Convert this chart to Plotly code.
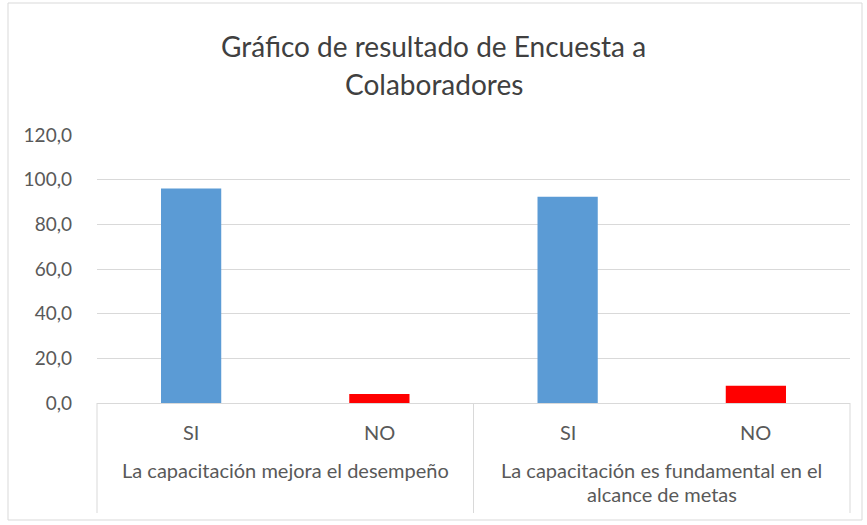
import plotly.graph_objects as go

group_labels = ["La capacitación mejora el desempeño",
                "La capacitación es fundamental en el<br>alcance de metas"]
groups = [group_labels[0], group_labels[0], group_labels[1], group_labels[1]]
answers = ["SI", "NO", "SI", "NO"]
values = [96.0, 4.0, 92.3, 7.7]
colors = ["#5B9BD5", "#FF0000", "#5B9BD5", "#FF0000"]
y_ticks = [0, 20, 40, 60, 80, 100, 120]

FONT = "Lato"
PL, PR = 97, 850
PT, PB = 135, 403
W, H = 867, 525
GRID = "#D9D9D9"
TXT = "#595959"

fig = go.Figure(go.Bar(
    x=[groups, answers], y=values,
    marker=dict(color=colors, line=dict(width=0)),
    showlegend=False,
))

def px(xp):
    return (xp - PL) / (PR - PL)

def py(yp):
    return (PB - yp) / (PB - PT)

n = len(answers)
annotations = []
for i, a in enumerate(answers):
    annotations.append(dict(text=a, xref="paper", yref="paper",
                            x=(i + 0.5) / n, y=py(432), showarrow=False,
                            xanchor="center", yanchor="middle",
                            font=dict(family=FONT, size=20, color=TXT)))
ng = len(group_labels)
for g, lab in enumerate(group_labels):
    lines = lab.split("<br>")
    for k, ln in enumerate(lines):
        annotations.append(dict(text=ln, xref="paper", yref="paper",
                                x=(g + 0.5) / ng, y=py(470 + 24 * k), showarrow=False,
                                xanchor="center", yanchor="middle",
                                font=dict(family=FONT, size=20, color=TXT)))

title_lines = ["Gráfico de resultado de Encuesta a", "Colaboradores"]
for k, t in enumerate(title_lines):
    annotations.append(dict(text=t, xref="paper", yref="paper",
                            x=px(W / 2), y=py(46 + 38 * k), showarrow=False,
                            xanchor="center", yanchor="middle",
                            font=dict(family=FONT, size=28, color="#404040")))

shapes = [dict(type="rect", xref="paper", yref="paper",
               x0=px(8), x1=px(862), y0=py(520), y1=py(3),
               line=dict(color=GRID, width=1), layer="below")]
for g in range(ng + 1):
    shapes.append(dict(type="line", xref="paper", yref="paper",
                       x0=g / ng, x1=g / ng, y0=0, y1=py(513),
                       line=dict(color=GRID, width=1)))

fig.update_layout(
    width=W, height=H,
    margin=dict(l=PL, r=W - PR, t=PT, b=H - PB),
    paper_bgcolor="white", plot_bgcolor="white",
    separators=",.",
    bargap=0.68,
    font=dict(family=FONT, color=TXT, size=19),
    xaxis=dict(type="multicategory", showgrid=False, showline=True,
               linecolor=GRID, linewidth=1, ticks="", showticklabels=False,
               showdividers=False),
    yaxis=dict(range=[0, 120], tickvals=y_ticks, tickformat=".1f",
               showgrid=True, gridcolor=GRID, gridwidth=1,
               zeroline=False, showline=False, ticks="",
               ticklabelstandoff=24,
               tickfont=dict(family=FONT, size=19, color=TXT)),
    annotations=annotations,
    shapes=shapes,
)

fig.write_html("out.html")
